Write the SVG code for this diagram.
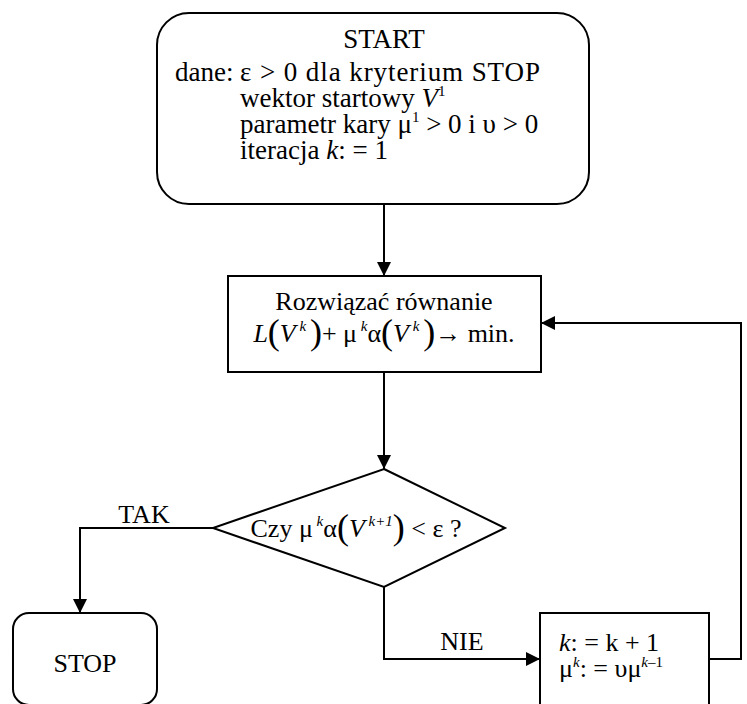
<svg xmlns="http://www.w3.org/2000/svg" width="747" height="704" viewBox="0 0 747 704">
<style>
.s{fill:none;stroke:#000;stroke-width:2}
.b{fill:#fff;stroke:#000;stroke-width:2}
</style>
<defs>
<marker id="ah" viewBox="0 0 14 14" refX="14" refY="7" markerWidth="14" markerHeight="14" markerUnits="userSpaceOnUse" orient="auto">
<path d="M0,0 L14,7 L0,14 Z" fill="#000"/>
</marker>
</defs>
<g id="connectors">
<line class="s" x1="384" y1="204" x2="384" y2="276" marker-end="url(#ah)"/>
<line class="s" x1="384" y1="372" x2="384" y2="469" marker-end="url(#ah)"/>
<polyline class="s" points="213,528 80,528 80,613" marker-end="url(#ah)"/>
<polyline class="s" points="384,587 384,659 540,659" marker-end="url(#ah)"/>
<polyline class="s" points="709,659 741,659 741,323 541,323" marker-end="url(#ah)"/>
<text font-family="Liberation Serif" font-size="26" x="144" y="523" text-anchor="middle">TAK</text>
<text font-family="Liberation Serif" font-size="26" x="462" y="650" text-anchor="middle">NIE</text>
</g>
<g id="start" font-family="Liberation Serif" font-size="27">
<rect class="b" x="157" y="13" width="432" height="191" rx="32"/>
<text font-family="Liberation Serif" font-size="27" x="384" y="48" text-anchor="middle">START</text>
<text font-family="Liberation Serif" font-size="27" x="175" y="81">dane:</text>
<text font-family="Liberation Serif" font-size="27" x="240" y="81" textLength="300" lengthAdjust="spacing">ε &gt; 0 dla kryterium STOP</text>
<text font-family="Liberation Serif" font-size="27" x="240" y="107">wektor startowy <tspan font-style="italic">V</tspan><tspan font-size="15" dy="-11">1</tspan></text>
<text font-family="Liberation Serif" font-size="27" x="240" y="133">parametr kary μ<tspan font-size="15" dy="-11">1</tspan><tspan dy="11"> &gt; 0 i υ &gt; 0</tspan></text>
<text font-family="Liberation Serif" font-size="27" x="240" y="159">iteracja <tspan font-style="italic">k</tspan>: = 1</text>
</g>
<g id="solve" font-family="Liberation Serif" font-size="26">
<rect class="b" x="228" y="276" width="313" height="96"/>
<text font-family="Liberation Serif" font-size="26" x="384" y="310" text-anchor="middle">Rozwiązać równanie</text>
<text font-family="Liberation Serif" font-size="26" x="384" y="342" text-anchor="middle"><tspan font-style="italic">L</tspan><tspan font-size="36" dy="2">(</tspan><tspan font-style="italic" dy="-2">V</tspan><tspan font-size="15" font-style="italic" dy="-11"> k </tspan><tspan font-size="36" dy="13">)</tspan><tspan dy="-2">+ μ</tspan><tspan font-size="15" font-style="italic" dy="-11"> k</tspan><tspan dy="11">α</tspan><tspan font-size="36" dy="2">(</tspan><tspan font-style="italic" dy="-2">V</tspan><tspan font-size="15" font-style="italic" dy="-11"> k </tspan><tspan font-size="36" dy="13">)</tspan><tspan dy="-2">→ min.</tspan></text>
</g>
<g id="decision" font-family="Liberation Serif" font-size="26">
<polygon class="b" points="384,469 505,528 384,587 213,528"/>
<text font-family="Liberation Serif" font-size="26" x="356" y="537" text-anchor="middle">Czy  μ<tspan font-size="15" font-style="italic" dy="-11"> k</tspan><tspan dy="11">α</tspan><tspan font-size="36" dy="2">(</tspan><tspan font-style="italic" dy="-2">V</tspan><tspan font-size="15" font-style="italic" dy="-11"> k+1</tspan><tspan font-size="36" dy="13">)</tspan><tspan dy="-2"> &lt; ε ?</tspan></text>
</g>
<g id="stop" font-family="Liberation Serif" font-size="26">
<rect class="b" x="13" y="613" width="144" height="92" rx="16"/>
<text font-family="Liberation Serif" font-size="26" x="85" y="672" text-anchor="middle">STOP</text>
</g>
<g id="update" font-family="Liberation Serif" font-size="26">
<rect class="b" x="540" y="613" width="169" height="100"/>
<text font-family="Liberation Serif" font-size="26" x="559" y="651"><tspan font-style="italic">k</tspan>: =  k + 1</text>
<text font-family="Liberation Serif" font-size="26" x="559" y="677">μ<tspan font-size="15" font-style="italic" dy="-10">k</tspan><tspan dy="10">: = υμ</tspan><tspan font-size="15" font-style="italic" dy="-10">k</tspan><tspan font-size="15">–1</tspan></text>
</g>
</svg>
